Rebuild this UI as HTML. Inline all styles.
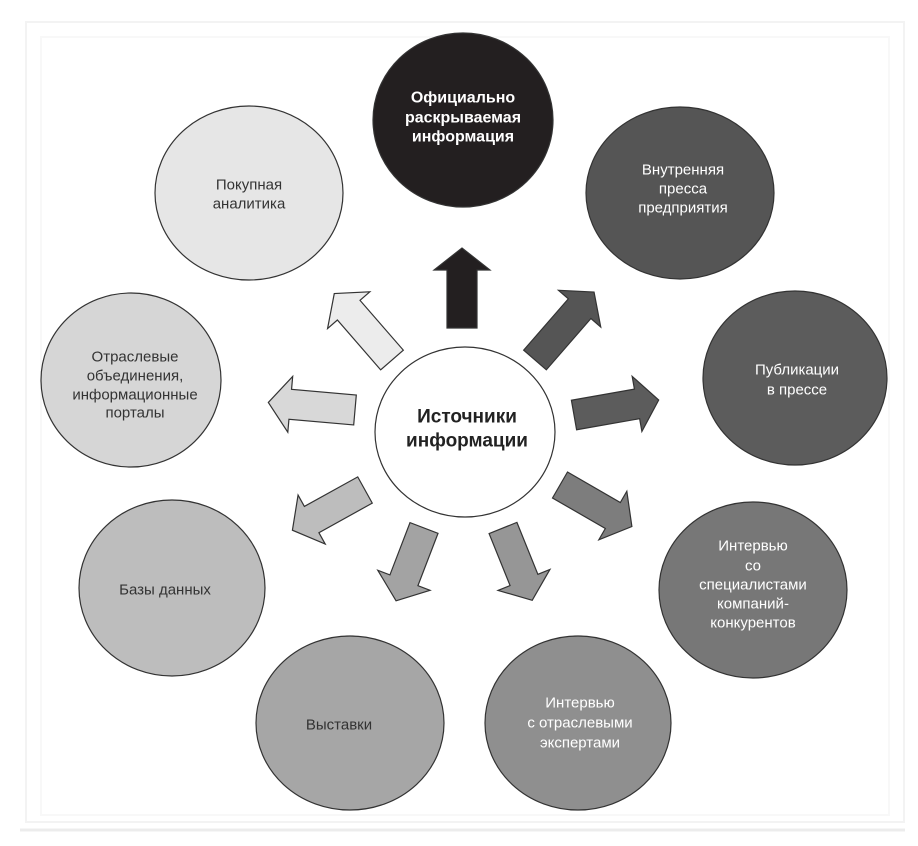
<!DOCTYPE html>
<html><head><meta charset="utf-8"><style>
html,body{margin:0;padding:0;background:#fff;width:918px;height:846px;overflow:hidden}
svg{display:block}
text{font-family:"Liberation Sans",Arial,sans-serif;font-size:15px;text-anchor:middle;dominant-baseline:central}
</style></head><body>
<svg width="918" height="846" viewBox="0 0 918 846" xmlns="http://www.w3.org/2000/svg">
<rect x="26" y="22" width="878" height="800" fill="#fff" stroke="#f3f3f3" stroke-width="2"/>
<rect x="41" y="37" width="848" height="778" fill="#fff" stroke="#f8f8f8" stroke-width="2"/>
<line x1="20" y1="830" x2="905" y2="830" stroke="#ececec" stroke-width="3"/>
<g stroke="#333" stroke-width="1.2">
<ellipse cx="463" cy="120" rx="90" ry="87" fill="#231f20"/>
<ellipse cx="249" cy="193" rx="94" ry="87" fill="#e6e6e6"/>
<ellipse cx="680" cy="193" rx="94" ry="86" fill="#555555"/>
<ellipse cx="131" cy="380" rx="90" ry="87" fill="#d6d6d6"/>
<ellipse cx="795" cy="378" rx="92" ry="87" fill="#5c5c5c"/>
<ellipse cx="465" cy="432" rx="90" ry="85" fill="#ffffff"/>
<ellipse cx="172" cy="588" rx="93" ry="88" fill="#bdbdbd"/>
<ellipse cx="350" cy="723" rx="94" ry="87" fill="#a6a6a6"/>
<ellipse cx="578" cy="723" rx="93" ry="87" fill="#8f8f8f"/>
<ellipse cx="753" cy="590" rx="94" ry="88" fill="#777777"/>
</g>
<g stroke="#333" stroke-width="1.2">
<g transform="translate(462,328) rotate(-90)"><polygon fill="#231f20" points="0,-15 58,-15 58,-28 80,0 58,28 58,15 0,15"/></g>
<g transform="translate(392,360) rotate(-131)"><polygon fill="#ececec" points="0,-15 66,-15 66,-28 88,0 66,28 66,15 0,15"/></g>
<g transform="translate(535,360) rotate(-49)"><polygon fill="#555555" points="0,-15 68,-15 68,-28 90,0 68,28 68,15 0,15"/></g>
<g transform="translate(355,410) rotate(185)"><polygon fill="#d8d8d8" points="0,-15 65,-15 65,-28 87,0 65,28 65,15 0,15"/></g>
<g transform="translate(574,415) rotate(-10)"><polygon fill="#5c5c5c" points="0,-15 64,-15 64,-28 86,0 64,28 64,15 0,15"/></g>
<g transform="translate(365,490) rotate(151)"><polygon fill="#bdbdbd" points="0,-15 61,-15 61,-28 83,0 61,28 61,15 0,15"/></g>
<g transform="translate(560,485) rotate(30)"><polygon fill="#7d7d7d" points="0,-15 61,-15 61,-28 83,0 61,28 61,15 0,15"/></g>
<g transform="translate(424,528) rotate(111)"><polygon fill="#a3a3a3" points="0,-15 56,-15 56,-28 78,0 56,28 56,15 0,15"/></g>
<g transform="translate(503,528) rotate(68)"><polygon fill="#969696" points="0,-15 56,-15 56,-28 78,0 56,28 56,15 0,15"/></g>
</g>
<g fill="#fff">
<text x="463" y="98" style="font-size:16px;font-weight:bold">Официально</text>
<text x="463" y="118" style="font-size:16px;font-weight:bold">раскрываемая</text>
<text x="463" y="137" style="font-size:16px;font-weight:bold">информация</text>
</g>
<g fill="#333">
<text x="249" y="185">Покупная</text>
<text x="249" y="204">аналитика</text>
<text x="135" y="357">Отраслевые</text>
<text x="135" y="376">объединения,</text>
<text x="135" y="395">информационные</text>
<text x="135" y="413">порталы</text>
<text x="165" y="590">Базы данных</text>
<text x="339" y="725">Выставки</text>
</g>
<g fill="#fff">
<text x="683" y="170">Внутренняя</text>
<text x="683" y="189">пресса</text>
<text x="683" y="208">предприятия</text>
<text x="797" y="370">Публикации</text>
<text x="797" y="390">в прессе</text>
<text x="753" y="546">Интервью</text>
<text x="753" y="566">со</text>
<text x="753" y="585">специалистами</text>
<text x="753" y="604">компаний-</text>
<text x="753" y="623">конкурентов</text>
<text x="580" y="703">Интервью</text>
<text x="580" y="723">с отраслевыми</text>
<text x="580" y="743">экспертами</text>
</g>
<text x="467" y="417" fill="#222" style="font-size:19px;font-weight:bold">Источники</text>
<text x="467" y="441" fill="#222" style="font-size:19px;font-weight:bold">информации</text>
</svg>
</body></html>
